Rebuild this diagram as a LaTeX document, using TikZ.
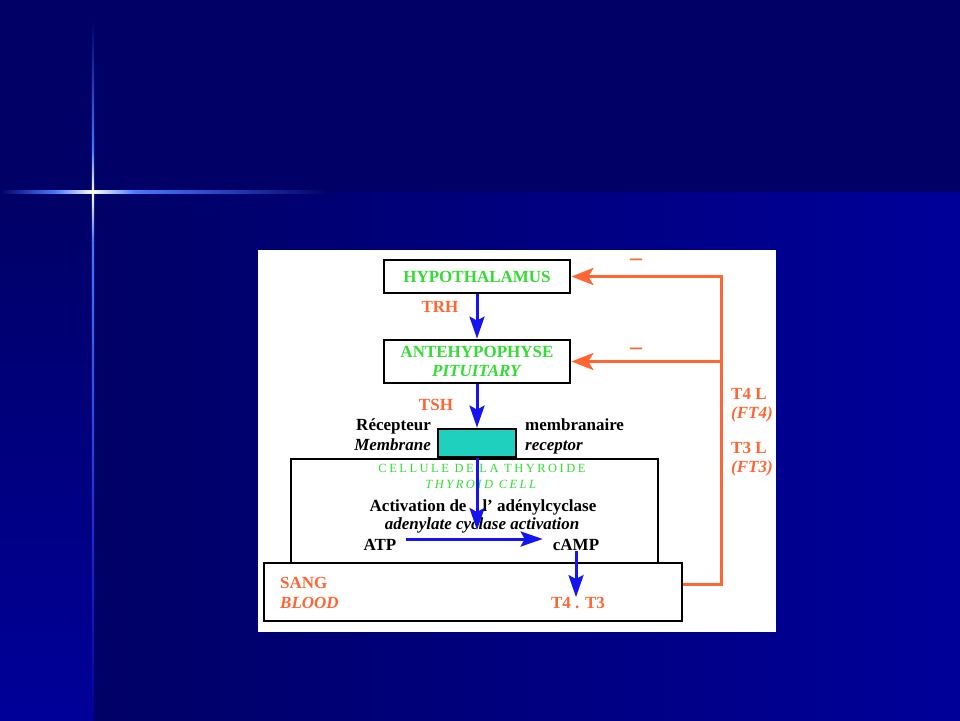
\documentclass[tikz,border=0pt]{standalone}
\usepackage{fontspec}
\setmainfont{Liberation Serif}
\newfontfamily\spacedserif[LetterSpace=20]{Liberation Serif}
\usetikzlibrary{arrows.meta,positioning}

\definecolor{bgdark}{RGB}{0,0,102}
\definecolor{bgblue}{RGB}{0,0,153}
\definecolor{starblue}{RGB}{70,120,255}
\definecolor{hormgreen}{RGB}{51,221,51}
\definecolor{fborange}{RGB}{255,102,51}
\definecolor{recteal}{RGB}{31,208,190}
\definecolor{sigblue}{RGB}{20,20,240}

\begin{document}
\begin{tikzpicture}[x=1pt, y=-1pt,
  organ/.style={draw=black, line width=2.8pt, fill=white, align=center,
    font=\fontsize{17}{19}\selectfont\bfseries, text=hormgreen, inner sep=0pt},
  lab/.style={font=\fontsize{17}{19}\selectfont\bfseries, inner sep=0pt},
  orangelab/.style={lab, text=fborange},
  sig/.style={draw=sigblue, line width=3pt, -{Stealth[length=22pt,width=15pt,inset=4pt]}},
  fb/.style={draw=fborange, line width=3pt, -{Stealth[length=22pt,width=17pt,inset=5pt]}}]
\useasboundingbox (0,0) rectangle (960,720);
\fill[bgdark] (0,0) rectangle (960,192);
\shade[left color=bgdark, right color=bgblue] (93,192) rectangle (960,720);
\shade[top color=bgdark, bottom color=bgblue] (0,192) rectangle (93,720);
\shade[left color=bgdark, right color=starblue] (0,190.8) rectangle (55,193.2);
\shade[left color=starblue, right color=white] (55,190.8) rectangle (93,193.2);
\shade[left color=white, right color=starblue] (93,190.8) rectangle (135,193.2);
\shade[left color=starblue, right color=bgdark] (135,190.8) rectangle (330,193.2);
\shade[top color=bgdark, bottom color=starblue] (91.8,20) rectangle (94.2,150);
\shade[top color=starblue, bottom color=white] (91.8,150) rectangle (94.2,192);
\shade[top color=white, bottom color=starblue] (91.8,192) rectangle (94.2,240);
\shade[top color=starblue, bottom color=bgblue] (91.8,240) rectangle (94.2,720);
\fill[white] (258,250) rectangle (776,632);

\node[organ, minimum width=186pt, minimum height=33pt] (hypo) at (477,276.5) {HYPOTHALAMUS};
\node[organ, minimum width=186pt, minimum height=43pt] (ante) at (477,361.5) {ANTEHYPOPHYSE\\\textit{PITUITARY}};
\node[organ, minimum width=367pt, minimum height=104pt] (cell) at (474.5,511) {};
\node[organ, minimum width=418pt, minimum height=58pt] (sang) at (473,592) {};
\node[organ, fill=recteal, minimum width=78pt, minimum height=28pt] (recep) at (477,443) {};

\node[orangelab] (trh) at (440,307) {TRH};
\node[orangelab] (tsh) at (436,405) {TSH};
\node[lab, anchor=base east] (recfr) at (431,430) {Récepteur};
\node[lab, anchor=base east] (recfr2) at (431,450) {\itshape Membrane};
\node[lab, anchor=base west] (recen) at (525,430) {membranaire};
\node[lab, anchor=base west] (recen2) at (525,450) {\itshape receptor};
\node[font=\spacedserif\fontsize{12.5}{16}\selectfont, text=hormgreen, align=center, inner sep=0pt] (celltxt) at (482,476) {CELLULE DE LA THYROIDE\\\textit{THYROID CELL}};
\node[lab] (adc) at (483,507) {Activation de\hspace{16pt}l' adénylcyclase};
\node[lab] (adcen) at (482,525) {\itshape adenylate cyclase activation};
\node[lab] (atp) at (380,545) {ATP};
\node[lab] (camp) at (576,545) {cAMP};
\node[orangelab, anchor=west] (sangtxt) at (280,583) {SANG};
\node[orangelab, anchor=west] (bloodtxt) at (280,603) {\itshape BLOOD};
\node[orangelab] (t4t3) at (578,603) {T4 . T3};
\node[orangelab, anchor=west, align=left] (ft4) at (731,405) {T4 L\\\textit{(FT4)}};
\node[orangelab, anchor=west, align=left] (ft3) at (731,459) {T3 L\\\textit{(FT3)}};
\node[orangelab, font=\fontsize{24}{24}\selectfont\bfseries] (minus1) at (636,262) {–};
\node[orangelab, font=\fontsize{24}{24}\selectfont\bfseries] (minus2) at (636,351) {–};

\coordinate (adcpt) at (477,530);
\coordinate (fbx) at (721,0);
\draw[sig] (hypo) -- (ante);
\draw[sig] (ante.south) -- (ante.south |- recep.north);
\draw[sig] (adcpt |- recep.south) -- (adcpt);
\draw[sig, shorten <=9pt, shorten >=10pt] ([yshift=6pt]atp.east) -- ([yshift=6pt]camp.west);
\draw[sig] (camp.south) -- (camp.south |- t4t3.north);
\draw[fb] ([yshift=8pt]sang.east) -| (fbx |- hypo.east) -- (hypo.east);
\draw[fb] (fbx |- ante.east) -- (ante.east);
\end{tikzpicture}
\end{document}
